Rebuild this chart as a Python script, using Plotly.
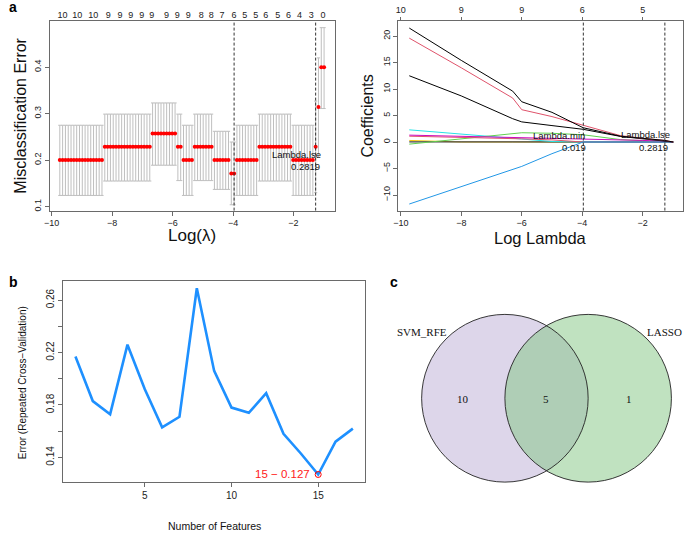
import numpy as np
import plotly.graph_objects as go

W, H = 685, 533
FONT = "Liberation Sans"
SERIF = "Liberation Serif"

# ---------------- Panel a (left): CV misclassification error ----------------
log_lambda_max = -0.987          # largest log(lambda) on the path
log_lambda_step = 0.093          # spacing of the glmnet lambda path (log scale)
n_lambda = 95
# piecewise-constant groups (upper log-lambda edge of each group)
group_upper_edge = [-8.27, -6.69, -5.865, -5.69, -5.305, -4.65, -4.105, -3.915, -3.165, -2.04, -1.31, -1.22, -1.12, 0.0]
group_cvm = [0.2, 0.2286, 0.2571, 0.2286, 0.2, 0.2286, 0.2, 0.1714, 0.2, 0.2286, 0.2, 0.2286, 0.3143, 0.4]
group_cvup = [0.275, 0.299, 0.323, 0.299, 0.275, 0.299, 0.262, 0.239, 0.275, 0.299, 0.275, 0.327, 0.42, 0.485]
group_cvlo = [0.124, 0.155, 0.189, 0.156, 0.124, 0.156, 0.137, 0.104, 0.124, 0.155, 0.124, 0.13, 0.206, 0.311]
nz_tick_pos = [-9.64, -9.15, -8.62, -8.13, -7.74, -7.38, -7.02, -6.69, -6.20, -5.84, -5.48, -5.05,
               -4.72, -4.36, -3.97, -3.61, -3.25, -2.92, -2.52, -2.16, -1.80, -1.41, -1.02]
nz_tick_lab = [10, 10, 10, 9, 9, 9, 9, 9, 9, 9, 9, 8, 8, 7, 6, 5, 5, 6, 5, 6, 4, 3, 0]
lambda_min = 0.019
lambda_1se = 0.2819

# ---------------- Panel a (right): coefficient paths ----------------
coef_knots = [-9.72, -8.0, -6.3, -6.0, -5.0, -3.97, -2.73, -2.0, -1.27, -0.99]
coef_v1 = [21.5, 15.4, 9.6, 7.6, 5.6, 2.7, 1.1, 0.7, 0.3, 0.0]
coef_v2 = [19.6, 14.0, 8.3, 6.1, 4.8, 3.2, 1.2, 0.7, 0.3, 0.0]
coef_v3 = [-0.4, 0.53, 1.45, 1.75, 1.65, 1.37, 0.45, 0.2, 0.05, 0.0]
coef_v4 = [-11.7, -8.4, -5.1, -4.6, -2.2, 0.0, 0.0, 0.0, 0.0, 0.0]
coef_v5 = [2.3, 1.5, 0.7, 0.55, 0.1, 0.0, 0.0, 0.0, 0.0, 0.0]
coef_v6 = [1.3, 1.1, 0.8, 0.75, 0.7, 0.6, 0.45, 0.3, 0.15, 0.0]
coef_v7 = [0.3, 0.0, 0.0, 0.0, 0.0, 0.0, 0.0, 0.0, 0.0, 0.0]
coef_v8 = [0.02, 0.01, 0.0, 0.0, 0.0, 0.0, 0.0, 0.0, 0.0, 0.0]
coef_v9 = [12.5, 8.7, 4.4, 3.8, 3.1, 2.4, 1.05, 0.6, 0.2, 0.0]
coef_v10 = [1.1, 0.9, 0.7, 0.6, 0.4, 0.0, 0.0, 0.0, 0.0, 0.0]
coef_colors = ["#000000", "#DF536B", "#61D04F", "#2297E6", "#28E2E5",
               "#CD0BBC", "#F5C710", "#404040", "#000000", "#DF536B"]
df_tick_pos = [-10, -8, -6, -4, -2]
df_tick_lab = [10, 9, 9, 6, 5]

# ---------------- Panel b: SVM-RFE error ----------------
n_features = list(range(1, 18))
rfe_error = [0.217, 0.183, 0.173, 0.226, 0.192, 0.163, 0.171, 0.269, 0.206,
             0.178, 0.174, 0.189, 0.158, 0.143, 0.127, 0.152, 0.162]
best_n = 15
best_err = 0.127

# ---------------- Panel c: Venn ----------------
set_names = ["SVM_RFE", "LASSO"]
region_counts = [10, 5, 1]   # only SVM_RFE, both, only LASSO


def dom_x(a, b):
    return [a / W, b / W]


def dom_y(top, bottom):
    return [1 - bottom / H, 1 - top / H]


def px(p):
    return p / W


def py(p):
    return 1 - p / H


log_lambda = log_lambda_max - log_lambda_step * np.arange(n_lambda)
gi = np.searchsorted(np.array(group_upper_edge), log_lambda, side="left")
cvm = np.array(group_cvm)[gi]
cvup = np.array(group_cvup)[gi]
cvlo = np.array(group_cvlo)[gi]

fig = go.Figure()

# error bars + red points
fig.add_trace(go.Scatter(
    x=log_lambda, y=cvm, mode="markers", xaxis="x", yaxis="y",
    marker=dict(color="#FF0000", size=4),
    error_y=dict(type="data", symmetric=False, array=cvup - cvm, arrayminus=cvm - cvlo,
                 color="#BFBFBF", thickness=1, width=1.6),
    hoverinfo="skip", showlegend=False))
# carrier for top axis (numbers of non-zero coefs)
fig.add_trace(go.Scatter(x=nz_tick_pos, y=[0.3] * len(nz_tick_pos), mode="markers",
                         marker=dict(opacity=0), xaxis="x5", yaxis="y",
                         hoverinfo="skip", showlegend=False))

# coefficient paths
coefs = [coef_v1, coef_v2, coef_v3, coef_v4, coef_v5, coef_v6, coef_v7, coef_v8, coef_v9, coef_v10]
draw_order = [6, 7, 4, 2, 9, 5, 3, 8, 1, 0]
for i in draw_order:
    fig.add_trace(go.Scatter(x=coef_knots, y=coefs[i], mode="lines", xaxis="x3", yaxis="y3",
                             line=dict(color=coef_colors[i], width=1.3 if i == 7 else 1),
                             hoverinfo="skip", showlegend=False))
fig.add_trace(go.Scatter(x=df_tick_pos, y=[0] * len(df_tick_pos), mode="markers",
                         marker=dict(opacity=0), xaxis="x6", yaxis="y3",
                         hoverinfo="skip", showlegend=False))

# panel b
fig.add_trace(go.Scatter(x=n_features, y=rfe_error, mode="lines", xaxis="x2", yaxis="y2",
                         line=dict(color="#1E90FF", width=2.6),
                         hoverinfo="skip", showlegend=False))
fig.add_trace(go.Scatter(x=[best_n], y=[best_err], mode="markers", xaxis="x2", yaxis="y2",
                         marker=dict(symbol="circle-open", color="#FF0000", size=6,
                                     line=dict(width=1)),
                         hoverinfo="skip", showlegend=False))

BOX = "#6a6a6a"
TICKF = dict(family=FONT, size=9, color="#222")


def base_axis(**kw):
    d = dict(showline=True, linecolor=BOX, linewidth=1, mirror=True, ticks="outside",
             ticklen=4, tickcolor=BOX, tickwidth=1, showgrid=False, zeroline=False,
             tickfont=TICKF, fixedrange=True)
    d.update(kw)
    return d


shapes = []
ll_min = float(np.log(lambda_min))
ll_1se = float(np.log(lambda_1se))
for xr, yr in (("x", "y domain"), ("x3", "y3 domain")):
    for v in (ll_min, ll_1se):
        shapes.append(dict(type="line", xref=xr, yref=yr, x0=v, x1=v, y0=0, y1=1,
                           line=dict(color="#333", width=1, dash="3px,2px")))

# Venn circles (axis units = pixels)
venn_cy = 399
venn_r = 84
venn_cx = [503.3, 587.3]
shapes.append(dict(type="circle", xref="x4", yref="y4", x0=venn_cx[0] - venn_r, x1=venn_cx[0] + venn_r,
                   y0=venn_cy - venn_r, y1=venn_cy + venn_r, fillcolor="#DDD6EA",
                   line=dict(width=0)))
shapes.append(dict(type="circle", xref="x4", yref="y4", x0=venn_cx[1] - venn_r, x1=venn_cx[1] + venn_r,
                   y0=venn_cy - venn_r, y1=venn_cy + venn_r, fillcolor="rgba(129,198,129,0.5)",
                   line=dict(width=0)))
for cx in venn_cx:
    shapes.append(dict(type="circle", xref="x4", yref="y4", x0=cx - venn_r, x1=cx + venn_r,
                       y0=venn_cy - venn_r, y1=venn_cy + venn_r, fillcolor="rgba(0,0,0,0)",
                       line=dict(width=0.9, color="#222")))

ann = []


def text(x, y, s, size, angle=0, color="#111", bold=False, family=FONT, xanchor="center", ref="paper"):
    if bold:
        s = "<b>" + s + "</b>"
    if ref == "paper":
        ann.append(dict(x=px(x), y=py(y), xref="paper", yref="paper", text=s, showarrow=False,
                        textangle=angle, xanchor=xanchor, yanchor="middle",
                        font=dict(family=family, size=size, color=color)))
    else:
        ann.append(dict(x=x, y=y, xref="x4", yref="y4", text=s, showarrow=False,
                        textangle=angle, xanchor=xanchor, yanchor="middle",
                        font=dict(family=family, size=size, color=color)))


text(1, 7, "a", 14, bold=True, color="#000", xanchor="left")
text(15, 116, "Misclassification Error", 16, angle=-90)
text(188, 236, "Log(λ)", 17)
text(293, 155, "Lambda.lse", 9.5)
text(302, 166.5, "0.2819", 9.5)
text(365, 116, "Coefficients", 16, angle=-90)
text(539.5, 238, "Log Lambda", 16.5)
text(558, 136, "Lambda.min", 9.5)
text(573, 148, "0.019", 9.5)
text(645, 135, "Lambda.lse", 9.5)
text(653, 148, "0.2819", 9.5)

text(1, 283, "b", 14, bold=True, color="#000", xanchor="left")
text(16, 383, "Error (Repeated Cross\u2212Validation)", 10, angle=-90)
text(210, 527, "Number of Features", 10.5)
text(309, 475, f"{best_n} \u2212 {best_err}", 11.5, color="#FF2020", xanchor="right")

text(385, 283, "c", 14, bold=True, color="#000", xanchor="left")
text(420, 332.7, set_names[0], 11, family=SERIF, ref="x4")
text(684, 332.7, set_names[1], 11, family=SERIF, ref="x4", xanchor="right")
text(461, 400, str(region_counts[0]), 11, family=SERIF, ref="x4")
text(545, 400, str(region_counts[1]), 11, family=SERIF, ref="x4")
text(629, 400, str(region_counts[2]), 11, family=SERIF, ref="x4")

fig.update_layout(
    width=W, height=H, autosize=False,
    margin=dict(l=0, r=0, t=0, b=0),
    paper_bgcolor="white", plot_bgcolor="rgba(0,0,0,0)",
    showlegend=False,
    xaxis=base_axis(domain=dom_x(44, 332), range=[-10.066, -0.623], anchor="y",
                    tickvals=[-10, -8, -6, -4, -2]),
    yaxis=base_axis(domain=dom_y(21, 211), range=[0.0914, 0.4994], anchor="x",
                    tickvals=[0.1, 0.2, 0.3, 0.4, 0.5], ticktext=["0.1", "0.2", "0.3", "0.4", "0.5"],
                    tickangle=-90),
    xaxis5=dict(overlaying="x", side="top", anchor="y", range=[-10.066, -0.623],
                tickvals=nz_tick_pos, ticktext=[str(v) for v in nz_tick_lab], ticks="",
                showline=False, showgrid=False, zeroline=False, tickfont=TICKF, fixedrange=True),
    xaxis3=base_axis(domain=dom_x(395.7, 683), range=[-10.085, -0.666], anchor="y3",
                     tickvals=[-10, -8, -6, -4, -2]),
    yaxis3=base_axis(domain=dom_y(21, 211), range=[-12.94, 22.84], anchor="x3",
                     tickvals=[-10, -5, 0, 5, 10, 15, 20], tickangle=-90),
    xaxis6=dict(overlaying="x3", side="top", anchor="y3", range=[-10.085, -0.666],
                tickvals=df_tick_pos, ticktext=[str(v) for v in df_tick_lab], ticks="outside",
                ticklen=3, tickcolor=BOX, showline=False, showgrid=False, zeroline=False,
                tickfont=TICKF, fixedrange=True),
    xaxis2=base_axis(domain=dom_x(58, 362), range=[0.31, 17.69], anchor="y2",
                     tickvals=[5, 10, 15], tickfont=dict(family=FONT, size=10, color="#222")),
    yaxis2=base_axis(domain=dom_y(282, 483), range=[0.1212, 0.2742], anchor="x2",
                     tickvals=[0.14, 0.16, 0.18, 0.20, 0.22, 0.24, 0.26],
                     ticktext=["0.14", "", "0.18", "", "0.22", "", "0.26"], tickangle=-90,
                     tickfont=dict(family=FONT, size=10, color="#222")),
    xaxis4=dict(domain=dom_x(380, 685), range=[380, 685], anchor="y4", visible=False, fixedrange=True),
    yaxis4=dict(domain=dom_y(290, 510), range=[510, 290], anchor="x4", visible=False, fixedrange=True),
    shapes=shapes,
    annotations=ann,
)

fig.write_html(
    "out.html",
    config={"displayModeBar": False, "staticPlot": True},
    post_script="document.body.style.margin='0';document.body.style.overflow='hidden';",
)
